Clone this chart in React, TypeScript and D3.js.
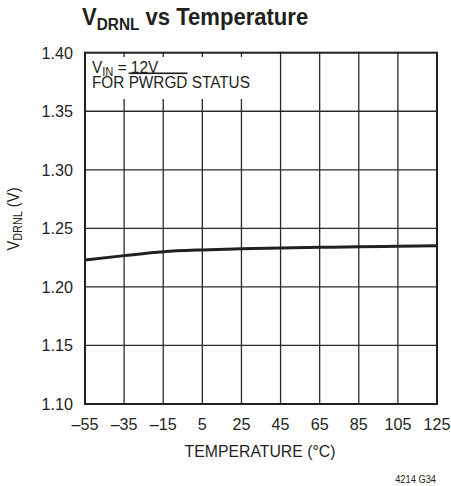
import React from "react";
import * as d3 from "d3";

const temps = [-55, -35, -15, 5, 25, 45, 65, 85, 105, 125];
const vdrnl = [1.223, 1.2267, 1.2300, 1.2316, 1.2326, 1.2333, 1.2338, 1.2343, 1.2347, 1.2351];
const xTicks = [-55, -35, -15, 5, 25, 45, 65, 85, 105, 125];
const yTicks = [1.10, 1.15, 1.20, 1.25, 1.30, 1.35, 1.40];

const FONT = "'Liberation Sans', Arial, sans-serif";
const INK = "#231f20";

function T(props: { x: number; y: number; sx?: number; rot?: number; size: number; anchor?: string; weight?: string; children: React.ReactNode }) {
  const { x, y, sx = 0.93, rot = 0, size, anchor = "start", weight = "normal", children } = props;
  return (
    <text
      transform={`translate(${x},${y}) rotate(${rot}) scale(${sx},1)`}
      fontSize={size}
      fontWeight={weight}
      textAnchor={anchor}
      fill={INK}
      fontFamily={FONT}
    >
      {children}
    </text>
  );
}

export default function App() {
  const W = 451, H = 486;
  const x = d3.scaleLinear().domain([-55, 125]).range([85, 437]);
  const y = d3.scaleLinear().domain([1.10, 1.40]).range([404, 52.7]);
  const line = d3.line<number>()
    .x((_, i) => x(temps[i]))
    .y((d) => y(d))
    .curve(d3.curveMonotoneX);
  const fmtX = (t: number) => (t < 0 ? "\u2013" + Math.abs(t) : String(t));
  return (
    <svg width={W} height={H} style={{ position: "absolute", left: 0, top: 0 }}>
      <rect width={W} height={H} fill="#fff" />
      <T x={82} y={25} size={23} weight="bold" sx={0.96}>
        V<tspan fontSize={16} dy={5}>DRNL</tspan><tspan dy={-5}> vs Temperature</tspan>
      </T>
      {xTicks.slice(1, -1).map((t) => (
        <line key={"gx" + t} x1={x(t)} x2={x(t)} y1={y(1.40)} y2={y(1.10)} stroke="#2a2a2a" strokeWidth={1.3} />
      ))}
      {yTicks.slice(1, -1).map((t) => (
        <line key={"gy" + t} x1={x(-55)} x2={x(125)} y1={y(t)} y2={y(t)} stroke="#2a2a2a" strokeWidth={1.3} />
      ))}
      <rect x={86} y={57} width={172} height={42} fill="#fff" />
      <T x={92} y={73} size={16.5}>
        V<tspan fontSize={12} dy={3}>IN</tspan><tspan dy={-3}> = 12V</tspan>
      </T>
      <T x={92} y={88} size={16.5}>
        FOR <tspan textDecoration="overline">PWRGD</tspan> STATUS
      </T>
      <rect x={x(-55)} y={y(1.40)} width={x(125) - x(-55)} height={y(1.10) - y(1.40)} fill="none" stroke={INK} strokeWidth={2} />
      <path d={line(vdrnl) || ""} fill="none" stroke={INK} strokeWidth={3} />
      {yTicks.map((t) => (
        <T key={"ly" + t} x={73} y={y(t) + 6} size={17} anchor="end" sx={0.95}>
          {t.toFixed(2)}
        </T>
      ))}
      {xTicks.map((t) => (
        <T key={"lx" + t} x={x(t)} y={430} size={17} anchor="middle" sx={0.95}>
          {fmtX(t)}
        </T>
      ))}
      <T x={260} y={457} size={17} anchor="middle">TEMPERATURE (°C)</T>
      <T x={19} y={219} rot={-90} size={16.5} anchor="middle" sx={0.9}>
        V<tspan fontSize={12} dy={3}>DRNL</tspan><tspan dy={-3}> (V)</tspan>
      </T>
      <T x={436} y={483} size={10} anchor="end">4214 G34</T>
    </svg>
  );
}
